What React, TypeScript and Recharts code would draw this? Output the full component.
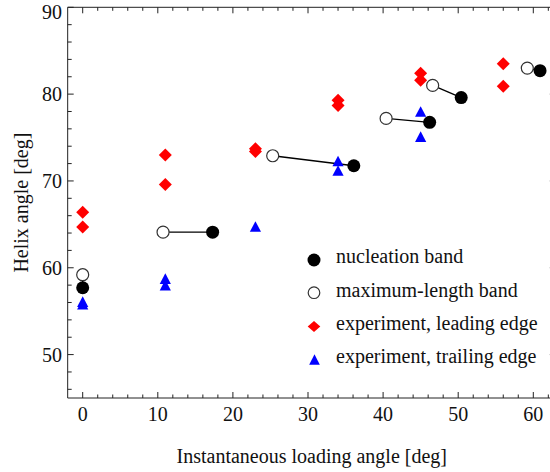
import React from 'react';
import { ScatterChart, Scatter, XAxis, YAxis, Legend } from 'recharts';

const FONT = "'Liberation Serif', 'Times New Roman', Times, serif";
const AXIS_COLOR = '#222';

// Tick values
const xTicks = [0, 2, 4, 6, 8, 10, 12, 14, 16, 18, 20, 22, 24, 26, 28, 30, 32, 34, 36, 38, 40, 42, 44, 46, 48, 50, 52, 54, 56, 58, 60, 62];
const xLabelTicks = [0, 10, 20, 30, 40, 50, 60];
const yTicks = [46, 48, 50, 52, 54, 56, 58, 60, 62, 64, 66, 68, 70, 72, 74, 76, 78, 80, 82, 84, 86, 88, 90];
const yLabelTicks = [50, 60, 70, 80, 90];

// Series
const nucleationBand = [
  { x: 0, y: 57.7 },
  { x: 17.3, y: 64.1 },
  { x: 36.1, y: 71.75 },
  { x: 46.2, y: 76.75 },
  { x: 50.4, y: 79.6 },
  { x: 60.9, y: 82.7 },
];
const maximumLengthBand = [
  { x: 0, y: 59.2 },
  { x: 10.7, y: 64.1 },
  { x: 25.3, y: 72.9 },
  { x: 40.4, y: 77.2 },
  { x: 46.6, y: 81.0 },
  { x: 59.2, y: 83.0 },
];
const leadingEdge = [
  { x: 0, y: 66.4 },
  { x: 0, y: 64.7 },
  { x: 11, y: 73.0 },
  { x: 11, y: 69.6 },
  { x: 23, y: 73.7 },
  { x: 23, y: 73.4 },
  { x: 34, y: 79.3 },
  { x: 34, y: 78.7 },
  { x: 45, y: 82.4 },
  { x: 45, y: 81.6 },
  { x: 56, y: 83.5 },
  { x: 56, y: 80.9 },
];
const trailingEdge = [
  { x: 0, y: 56.1 },
  { x: 0, y: 55.8 },
  { x: 11, y: 58.75 },
  { x: 11, y: 58.0 },
  { x: 23, y: 64.75 },
  { x: 34, y: 72.3 },
  { x: 34, y: 71.2 },
  { x: 45, y: 78.0 },
  { x: 45, y: 75.1 },
];

const legendLabels = [
  'nucleation band',
  'maximum-length band',
  'experiment, leading edge',
  'experiment, trailing edge',
];

const pairs = nucleationBand.map((n, i) => [maximumLengthBand[i], n]);

const FilledCircle = (p: any) => <circle cx={p.cx} cy={p.cy} r={6.5} fill="#000" />;
const OpenCircle = (p: any) => (
  <circle cx={p.cx} cy={p.cy} r={6} fill="#fff" stroke="#333" strokeWidth={1.2} />
);
const diamondPts = (cx: number, cy: number, w: number, h: number) =>
  `${cx},${cy - h} ${cx + w},${cy} ${cx},${cy + h} ${cx - w},${cy}`;
const trianglePts = (cx: number, cy: number, w: number, h: number) =>
  `${cx},${cy - h} ${cx + w},${cy + h} ${cx - w},${cy + h}`;
const Diamond = (p: any) => <polygon points={diamondPts(p.cx, p.cy, 6.5, 6.5)} fill="#ff0000" />;
const Triangle = (p: any) => <polygon points={trianglePts(p.cx, p.cy, 5.6, 5.3)} fill="#0000ff" />;
const NoShape = () => <g />;

const textStyle = { fontFamily: FONT, fontSize: 20, fill: '#111' };

const BottomTick = (props: any) => {
  const { x, y, payload } = props;
  const v = payload.value;
  const major = xLabelTicks.includes(v);
  return (
    <g>
      <line x1={x} x2={x} y1={y} y2={y - (major ? 6 : 3.5)} stroke={AXIS_COLOR} strokeWidth={1} />
      {major && (
        <text x={x} y={y + 22.7} textAnchor="middle" style={textStyle}>
          {v}
        </text>
      )}
    </g>
  );
};

const TopTick = (props: any) => {
  const { x, y, payload } = props;
  const major = xLabelTicks.includes(payload.value);
  return <line x1={x} x2={x} y1={y} y2={y + (major ? 6 : 3.5)} stroke={AXIS_COLOR} strokeWidth={1} />;
};

const LeftTick = (props: any) => {
  const { x, y, payload } = props;
  const v = payload.value;
  const major = yLabelTicks.includes(v);
  // keep the topmost label inside the picture, as in the reference
  const baseline = Math.max(y + 7, 18.5);
  return (
    <g>
      <line x1={x} x2={x + (major ? 6 : 4)} y1={y} y2={y} stroke={AXIS_COLOR} strokeWidth={1} />
      {major && (
        <text x={x - 5.7} y={baseline} textAnchor="end" style={textStyle}>
          {v}
        </text>
      )}
    </g>
  );
};

const RightTick = (props: any) => {
  const { x, y, payload } = props;
  const major = yLabelTicks.includes(payload.value);
  return <line x1={x} x2={x - (major ? 6 : 4)} y1={y} y2={y} stroke={AXIS_COLOR} strokeWidth={1} />;
};

const XLabel = (props: any) => {
  const vb = props.viewBox;
  return (
    <text x={vb.x + vb.width / 2} y={vb.y + 65} textAnchor="middle" style={textStyle}>
      Instantaneous loading angle [deg]
    </text>
  );
};

const YLabel = (props: any) => {
  const vb = props.viewBox;
  return (
    <text
      transform={`translate(28.3, ${vb.y + vb.height / 2}) rotate(-90)`}
      textAnchor="middle"
      style={textStyle}
    >
      Helix angle [deg]
    </text>
  );
};

const LegendContent = () => {
  const markerX = 24;
  const textX = 46;
  const rowCenters = [30, 62.7, 96.5, 129.5];
  const baselines = [33.3, 66.6, 99.9, 133.2];
  return (
    <svg width={260} height={150} style={{ overflow: 'visible' }}>
      <circle cx={markerX} cy={rowCenters[0]} r={6.5} fill="#000" />
      <circle cx={markerX} cy={rowCenters[1]} r={5.8} fill="#fff" stroke="#333" strokeWidth={1.2} />
      <polygon points={diamondPts(markerX, rowCenters[2], 6.3, 5.5)} fill="#ff0000" />
      <polygon points={trianglePts(markerX + 0.5, rowCenters[3], 5.3, 5.3)} fill="#0000ff" />
      {legendLabels.map((l, i) => (
        <text key={l} x={textX} y={baselines[i]} style={textStyle}>
          {l}
        </text>
      ))}
    </svg>
  );
};

export default function App() {
  return (
    <div
      style={{
        position: 'absolute',
        left: 0,
        top: 0,
        width: 550,
        height: 472,
        overflow: 'hidden',
        background: '#fff',
      }}
    >
      <ScatterChart
        width={560}
        height={472}
        margin={{ top: 6.3, right: 3.17, bottom: 73, left: 66.68 }}
      >
        <XAxis
          xAxisId={0}
          type="number"
          dataKey="x"
          domain={[-2, 63]}
          allowDataOverflow
          ticks={xTicks}
          interval={0}
          height={1}
          tickSize={0}
          tickMargin={0}
          tickLine={false}
          tick={<BottomTick />}
          axisLine={{ stroke: AXIS_COLOR, strokeWidth: 1 }}
          label={<XLabel />}
        />
        <XAxis
          xAxisId="top"
          orientation="top"
          type="number"
          dataKey="x"
          domain={[-2, 63]}
          allowDataOverflow
          ticks={xTicks}
          interval={0}
          height={1}
          tickSize={0}
          tickMargin={0}
          tickLine={false}
          tick={<TopTick />}
          axisLine={{ stroke: AXIS_COLOR, strokeWidth: 1 }}
        />
        <YAxis
          yAxisId={0}
          type="number"
          dataKey="y"
          domain={[45, 90]}
          allowDataOverflow
          ticks={yTicks}
          interval={0}
          width={1}
          tickSize={0}
          tickMargin={0}
          tickLine={false}
          tick={<LeftTick />}
          axisLine={{ stroke: AXIS_COLOR, strokeWidth: 1 }}
          label={<YLabel />}
        />
        <YAxis
          yAxisId="right"
          orientation="right"
          type="number"
          dataKey="y"
          domain={[45, 90]}
          allowDataOverflow
          ticks={yTicks}
          interval={0}
          width={1}
          tickSize={0}
          tickMargin={0}
          tickLine={false}
          tick={<RightTick />}
          axisLine={{ stroke: AXIS_COLOR, strokeWidth: 1 }}
        />
        {pairs.map((pair, i) => (
          <Scatter
            key={`pair-${i}`}
            xAxisId={0}
            yAxisId={0}
            data={pair}
            line={{ stroke: '#000', strokeWidth: 1.3 }}
            shape={NoShape}
            legendType="none"
            isAnimationActive={false}
          />
        ))}
        <Scatter
          name="maximum-length band"
          xAxisId={0}
          yAxisId={0}
          data={maximumLengthBand}
          shape={OpenCircle}
          isAnimationActive={false}
        />
        <Scatter
          name="nucleation band"
          xAxisId={0}
          yAxisId={0}
          data={nucleationBand}
          shape={FilledCircle}
          isAnimationActive={false}
        />
        <Scatter
          name="experiment, leading edge"
          xAxisId={0}
          yAxisId={0}
          data={leadingEdge}
          shape={Diamond}
          isAnimationActive={false}
        />
        <Scatter
          name="experiment, trailing edge"
          xAxisId={0}
          yAxisId={0}
          data={trailingEdge}
          shape={Triangle}
          isAnimationActive={false}
        />
        <Legend
          layout="vertical"
          align="center"
          verticalAlign="middle"
          content={<LegendContent />}
          wrapperStyle={{ left: 290, top: 230, width: 260, height: 150 }}
        />
      </ScatterChart>
    </div>
  );
}
